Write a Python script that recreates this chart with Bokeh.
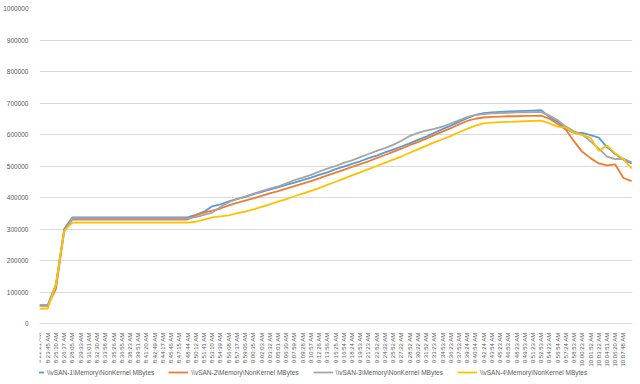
from bokeh.plotting import figure
from bokeh.models import Range1d, FixedTicker, Legend, LegendItem, BasicTickFormatter
from bokeh.embed import file_html
from bokeh.resources import INLINE
from math import pi

time_labels = [
    "8:22:21 AM", "8:23:45 AM", "8:25:10 AM", "8:26:37 AM", "8:28:05 AM", "8:29:33 AM",
    "8:31:01 AM", "8:32:30 AM", "8:33:58 AM", "8:35:26 AM", "8:36:55 AM", "8:38:23 AM",
    "8:39:51 AM", "8:41:20 AM", "8:42:49 AM", "8:44:17 AM", "8:45:46 AM", "8:47:15 AM",
    "8:48:44 AM", "8:50:12 AM", "8:51:41 AM", "8:53:10 AM", "8:54:39 AM", "8:56:08 AM",
    "8:57:37 AM", "8:59:06 AM", "9:00:35 AM", "9:02:03 AM", "9:03:32 AM", "9:05:01 AM",
    "9:06:30 AM", "9:07:59 AM", "9:09:28 AM", "9:10:57 AM", "9:12:26 AM", "9:13:56 AM",
    "9:15:25 AM", "9:16:54 AM", "9:18:24 AM", "9:19:53 AM", "9:21:23 AM", "9:22:52 AM",
    "9:24:22 AM", "9:25:52 AM", "9:27:22 AM", "9:28:52 AM", "9:30:22 AM", "9:31:52 AM",
    "9:33:23 AM", "9:34:53 AM", "9:36:23 AM", "9:37:53 AM", "9:39:24 AM", "9:40:54 AM",
    "9:42:24 AM", "9:43:54 AM", "9:45:23 AM", "9:46:53 AM", "9:48:23 AM", "9:49:53 AM",
    "9:51:23 AM", "9:52:53 AM", "9:54:23 AM", "9:55:54 AM", "9:57:24 AM", "9:58:53 AM",
    "10:00:23 AM", "10:01:52 AM", "10:03:22 AM", "10:04:51 AM", "10:06:20 AM", "10:07:48 AM",
]

series_names = [
    r"\\vSAN-1\Memory\NonKernel MBytes",
    r"\\vSAN-2\Memory\NonKernel MBytes",
    r"\\vSAN-3\Memory\NonKernel MBytes",
    r"\\vSAN-4\Memory\NonKernel MBytes",
]

vsan1 = [57000, 57000, 125000, 300000,
         337000, 337000, 337000, 337000, 337000,
         337000, 337000, 337000, 337000, 337000,
         337000, 337000, 337000, 337000, 337000,
         345000, 355000, 372000, 378000, 388000,
         395000, 402000, 410000, 418000, 425000,
         432000, 440000, 447000, 455000, 463000,
         472000, 480000, 490000, 498000, 507000,
         515000, 525000, 533000, 543000, 552000,
         562000, 572000, 583000, 593000, 605000,
         617000, 628000, 640000, 652000, 662000,
         668000, 670000, 672000, 673000, 674000,
         675000, 676000, 677000, 655000, 640000,
         618000, 605000, 605000, 598000, 590000,
         560000, 538000, 520000, 508000]

vsan2 = [57000, 57000, 110000, 295000,
         330000, 330000, 330000, 330000, 330000,
         330000, 330000, 330000, 330000, 330000,
         330000, 330000, 330000, 330000, 330000,
         343000, 352000, 358000, 365000, 375000,
         383000, 390000, 397000, 405000, 413000,
         420000, 428000, 436000, 444000, 452000,
         461000, 470000, 479000, 488000, 497000,
         506000, 515000, 525000, 535000, 545000,
         555000, 566000, 576000, 587000, 598000,
         609000, 620000, 632000, 643000, 650000,
         654000, 656000, 657000, 658000, 658000,
         659000, 659000, 660000, 650000, 633000,
         615000, 578000, 545000, 525000, 508000,
         502000, 505000, 462000, 452000]

vsan3 = [59000, 59000, 120000, 290000,
         334000, 334000, 334000, 334000, 334000,
         334000, 334000, 334000, 334000, 334000,
         334000, 334000, 334000, 334000, 334000,
         338000, 345000, 352000, 370000, 385000,
         395000, 403000, 412000, 420000, 428000,
         435000, 445000, 455000, 463000, 472000,
         482000, 492000, 500000, 510000, 518000,
         528000, 538000, 548000, 557000, 567000,
         580000, 595000, 605000, 612000, 618000,
         625000, 635000, 645000, 655000, 662000,
         665000, 667000, 668000, 669000, 670000,
         670000, 671000, 671000, 660000, 645000,
         625000, 610000, 600000, 578000, 555000,
         530000, 522000, 523000, 512000]

vsan4 = [47000, 47000, 125000, 295000,
         320000, 320000, 320000, 320000, 320000,
         320000, 320000, 320000, 320000, 320000,
         320000, 320000, 320000, 320000, 320000,
         323000, 330000, 337000, 340000, 343000,
         350000, 355000, 362000, 370000, 378000,
         387000, 395000, 404000, 412000, 421000,
         430000, 440000, 450000, 460000, 470000,
         480000, 490000, 500000, 510000, 520000,
         530000, 542000, 553000, 564000, 575000,
         585000, 595000, 607000, 618000, 628000,
         635000, 638000, 639000, 640000, 641000,
         642000, 643000, 644000, 635000, 625000,
         622000, 605000, 598000, 590000, 548000,
         565000, 540000, 522000, 492000]

y_ticks = [0, 100000, 200000, 300000, 400000, 500000, 600000, 700000, 800000, 900000, 1000000]

colors = ["#5B9BD5", "#ED7D31", "#A5A5A5", "#FFC000"]
series = [vsan1, vsan2, vsan3, vsan4]

FONT = "Liberation Sans"
TXT = "#595959"
GRID = "#D9D9D9"

# frame spans the full lower area; the category axis is pinned at y=0 so the
# tick labels and the legend sit below it, inside the frame
p = figure(width=640, height=384, output_backend="svg", toolbar_location=None,
           x_range=Range1d(0, 72.1), y_range=Range1d(-193650, 1000000),
           min_border_left=34, min_border_right=8, min_border_top=8, min_border_bottom=0)
p.outline_line_color = None
p.background_fill_color = "white"
p.border_fill_color = "white"

renderers = []
for ys, c in zip(series, colors):
    xs = list(range(len(ys)))
    r = p.line(xs, ys, line_color=c, line_width=1.8)
    renderers.append(r)

# axes
p.xaxis.fixed_location = 0
p.xaxis.ticker = FixedTicker(ticks=list(range(len(time_labels))))
p.xaxis.major_label_overrides = {i: t for i, t in enumerate(time_labels)}
p.xaxis.major_label_orientation = pi / 2
p.xaxis.major_label_text_font = FONT
p.xaxis.major_label_text_font_size = "6px"
p.xaxis.major_label_text_color = TXT
p.xaxis.major_label_standoff = 3
p.xaxis.major_tick_line_color = None
p.xaxis.minor_tick_line_color = None
p.xaxis.axis_line_color = GRID

p.yaxis.ticker = FixedTicker(ticks=y_ticks)
p.yaxis.formatter = BasicTickFormatter(use_scientific=False)
p.yaxis.major_label_text_font = FONT
p.yaxis.major_label_text_font_size = "6.5px"
p.yaxis.major_label_text_color = TXT
p.yaxis.major_label_standoff = 5
p.yaxis.major_tick_line_color = None
p.yaxis.minor_tick_line_color = None
p.yaxis.axis_line_color = None

p.xgrid.grid_line_color = None
p.ygrid.ticker = FixedTicker(ticks=y_ticks)
p.ygrid.grid_line_color = GRID
p.ygrid.grid_line_width = 1

legend = Legend(
    items=[LegendItem(label=n, renderers=[r]) for n, r in zip(series_names, renderers)],
    orientation="horizontal", location=(-15, 7),
    label_text_font=FONT, label_text_font_size="6.5px", label_text_color=TXT,
    glyph_width=20, glyph_height=10, label_height=10, label_standoff=3,
    spacing=14, padding=0, margin=0, border_line_color=None,
    background_fill_alpha=0,
)
p.add_layout(legend, "center")

open("out.html", "w").write(file_html(p, INLINE))
